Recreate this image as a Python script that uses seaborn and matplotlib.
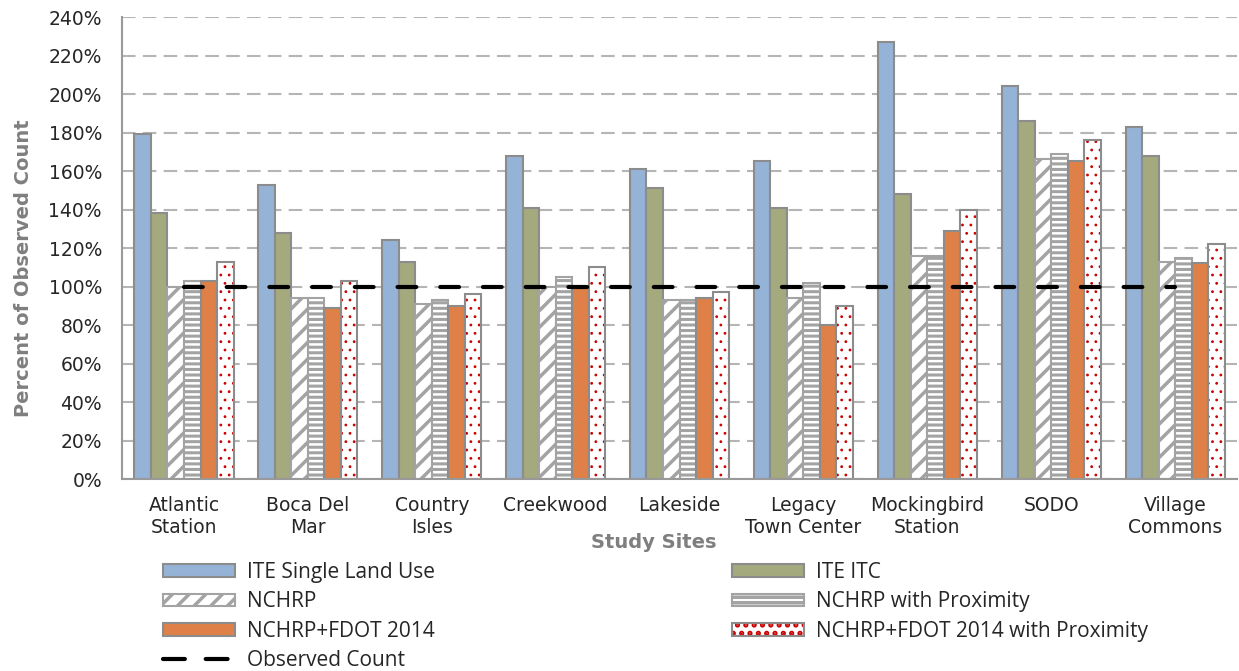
import numpy as np
import pandas as pd
import seaborn as sns
import matplotlib.pyplot as plt
from matplotlib.patches import Patch, Rectangle
from matplotlib.lines import Line2D
from matplotlib.legend_handler import HandlerTuple

# data (percent of observed count)
sites = ["Atlantic\nStation", "Boca Del\nMar", "Country\nIsles", "Creekwood", "Lakeside",
         "Legacy\nTown Center", "Mockingbird\nStation", "SODO", "Village\nCommons"]
series_names = ["ITE Single Land Use", "ITE ITC", "NCHRP", "NCHRP with Proximity",
                "NCHRP+FDOT 2014", "NCHRP+FDOT 2014 with Proximity"]
ite_single = [179, 153, 124, 168, 161, 165, 227, 204, 183]
ite_itc = [138, 128, 113, 141, 151, 141, 148, 186, 168]
nchrp = [100, 94, 91, 100, 93, 94, 116, 166, 113]
nchrp_prox = [103, 94, 93, 105, 93, 102, 116, 169, 115]
nchrp_fdot = [103, 89, 90, 100, 94, 80, 129, 165, 112]
nchrp_fdot_prox = [113, 103, 96, 110, 97, 90, 140, 176, 122]
observed = [100, 100, 100, 100, 100, 100, 100, 100, 100]
y_ticks = [0, 20, 40, 60, 80, 100, 120, 140, 160, 180, 200, 220, 240]

wide = pd.DataFrame({"site": sites, series_names[0]: ite_single, series_names[1]: ite_itc,
                     series_names[2]: nchrp, series_names[3]: nchrp_prox,
                     series_names[4]: nchrp_fdot, series_names[5]: nchrp_fdot_prox})
df = wide.melt(id_vars="site", var_name="series", value_name="value")

blue = "#95b3d7"
green = "#a4a97e"
orange = "#de8048"
red = "#cc0000"
edge = "#8c8c8c"
hatch_gray = "#a3a3a3"
palette = [blue, green, "white", "white", orange, "white"]

sns.set_style("white")
plt.rcParams['font.family'] = ['DejaVu Sans']
plt.rcParams['hatch.linewidth'] = 2.5

fig = plt.figure(figsize=(12.39, 6.71), dpi=100)
ax = fig.add_axes([0.0985, 0.2861, 0.8999, 0.6885])

sns.barplot(data=df, x="site", y="value", hue="series", order=sites, hue_order=series_names,
            palette=palette, saturation=1, width=0.8, errorbar=None, legend=False,
            edgecolor=edge, linewidth=1.5, ax=ax)


def hatch_lw(p, lw):
    if hasattr(p, "set_hatch_linewidth"):
        p.set_hatch_linewidth(lw)


for bar in ax.containers[2]:
    bar.set_hatch("//")
    bar.set_edgecolor(hatch_gray)
    hatch_lw(bar, 2.5)
for bar in ax.containers[3]:
    bar.set_hatch("---")
    bar.set_edgecolor(hatch_gray)
    hatch_lw(bar, 2.2)
for bar in ax.containers[5]:
    bar.set_hatch("..")
    bar.set_edgecolor(red)
    bar.set_linewidth(0)
    hatch_lw(bar, 0.8)
    ax.add_patch(Rectangle((bar.get_x(), bar.get_y()), bar.get_width(), bar.get_height(),
                           fill=False, edgecolor=edge, lw=1.5, zorder=bar.get_zorder() + 0.1))

# observed count reference line
sns.lineplot(x=np.arange(len(sites)), y=observed, color="black", lw=3, ax=ax)
obs_line = ax.lines[-1]
obs_line.set_dashes((4.5, 5.75))
obs_line.set_dash_capstyle("round")
obs_line.set_zorder(5)

ax.set_xlim(-0.5, len(sites) - 0.5)
ax.set_ylim(0, 240)
ax.set_yticks(y_ticks)
ax.set_yticklabels([f"{v}%" for v in y_ticks])
ax.set_xticks(np.arange(len(sites)))
ax.set_xticklabels(sites)
ax.set_xticks(np.arange(len(sites) + 1) - 0.5, minor=True)

ax.yaxis.grid(True, color="#b5b5b5", lw=1.5, linestyle=(0, (6.5, 3.5)))
ax.set_axisbelow(True)
for s in ["top", "right"]:
    ax.spines[s].set_visible(False)
for s in ["left", "bottom"]:
    ax.spines[s].set_color("#999999")
    ax.spines[s].set_linewidth(1.5)

ax.tick_params(axis="y", direction="inout", length=7, width=1.2, color="#999999",
               pad=11, labelsize=13.5, labelcolor="#262626")
ax.tick_params(axis="x", which="major", length=0, pad=12, labelsize=13.5, labelcolor="#262626")
ax.tick_params(axis="x", which="minor", direction="out", length=4, width=1.2, color="#999999")

ax.set_ylabel("Percent of Observed Count", fontsize=14, fontweight="bold", color="#7f7f7f")
ax.yaxis.set_label_coords(-0.08, 0.457)
ax.set_xlabel("Study Sites", fontsize=14, fontweight="bold", color="#7f7f7f")
ax.xaxis.set_label_coords(0.477, -0.117)

# legend handles
h_blue = Patch(facecolor=blue, edgecolor=edge, lw=1.5)
h_green = Patch(facecolor=green, edgecolor=edge, lw=1.5)
h_orange = Patch(facecolor=orange, edgecolor=edge, lw=1.5)
h_nchrp = Patch(facecolor="white", edgecolor=hatch_gray, lw=1.5, hatch="//")
hatch_lw(h_nchrp, 2.5)
h_prox = Patch(facecolor="white", edgecolor=hatch_gray, lw=1.5, hatch="---")
hatch_lw(h_prox, 2.2)
h_dot_fill = Patch(facecolor="white", edgecolor=red, lw=0, hatch="..")
hatch_lw(h_dot_fill, 0.8)
h_dot = (h_dot_fill, Patch(fill=False, edgecolor=edge, lw=1.5))
h_obs = Line2D([], [], color="black", lw=3, dashes=(5.25, 5), dash_capstyle="round")

leg_kw = dict(loc="upper left", frameon=False, borderpad=0, borderaxespad=0,
              handlelength=3.46, handleheight=0.58, handletextpad=0.55, labelspacing=0.4,
              prop={"family": "Open Sans", "size": 15},
              handler_map={tuple: HandlerTuple(ndivide=1, pad=0)})
fig.legend([h_blue, h_nchrp, h_orange, h_obs],
           ["ITE Single Land Use", "NCHRP", "NCHRP+FDOT 2014", "Observed Count"],
           bbox_to_anchor=(163 / 1239, 1 - 562 / 671), **leg_kw)
fig.legend([h_green, h_prox, h_dot],
           ["ITE ITC", "NCHRP with Proximity", "NCHRP+FDOT 2014 with Proximity"],
           bbox_to_anchor=(732 / 1239, 1 - 562 / 671), **leg_kw)

fig.savefig("out.png", dpi=100)
